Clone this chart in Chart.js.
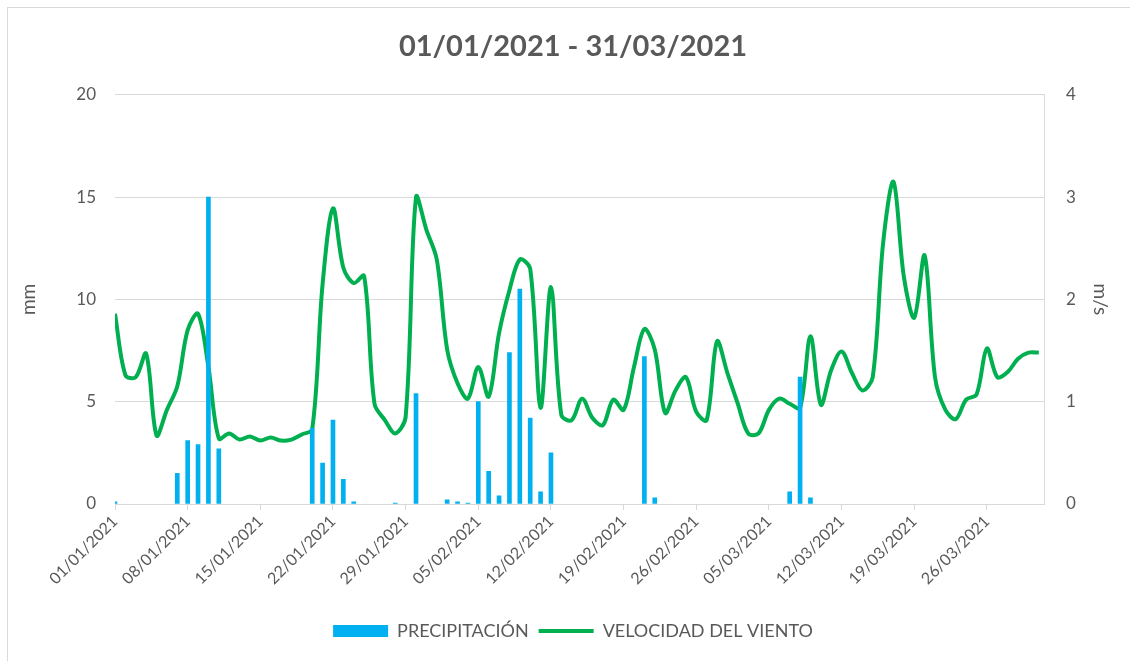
<!DOCTYPE html>
<html lang="es">
<head>
<meta charset="utf-8">
<title>Precipitación y velocidad del viento</title>
<script src="https://cdn.jsdelivr.net/npm/chart.js@4"></script>
<style>
  html, body { margin: 0; padding: 0; background: #fff; overflow: hidden; }
  #marco { position: absolute; left: 7px; top: 7px; width: 1140px; height: 670px; border: 1px solid #d9d9d9; }
  #grafico { position: absolute; left: 8px; top: 0; }
</style>
</head>
<body>
<div id="marco"></div>
<canvas id="grafico" width="1130" height="661"></canvas>
<script>
// Días del trimestre (01/01/2021 .. 31/03/2021)
const fechas = [];
for (let i = 0; i < 90; i++) {
  const d = new Date(Date.UTC(2021, 0, 1 + i));
  const dd = String(d.getUTCDate()).padStart(2, '0');
  const mm = String(d.getUTCMonth() + 1).padStart(2, '0');
  fechas.push(dd + '/' + mm + '/' + d.getUTCFullYear());
}

// precipitación diaria (mm)
const precipitacion = [
  0.1, 0, 0, 0, 0, 0, 1.5, 3.1, 2.9, 15.0,
  2.7, 0, 0, 0, 0, 0, 0, 0, 0, 3.7,
  2.0, 4.1, 1.2, 0.1, 0, 0, 0, 0.05, 0, 5.4,
  0, 0, 0.2, 0.1, 0.05, 5.0, 1.6, 0.4, 7.4, 10.5,
  4.2, 0.6, 2.5, 0, 0, 0, 0, 0, 0, 0,
  0, 7.2, 0.3, 0, 0, 0, 0, 0, 0, 0,
  0, 0, 0, 0, 0, 0.6, 6.2, 0.3, 0, 0,
  0, 0, 0, 0, 0, 0, 0, 0, 0, 0,
  0, 0, 0, 0, 0, 0, 0, 0, 0, 0
];

// velocidad media del viento (m/s)
const viento = [
  1.86, 1.26, 1.24, 1.47, 0.67, 0.92, 1.15, 1.70, 1.86, 1.34,
  0.64, 0.69, 0.63, 0.66, 0.62, 0.65, 0.62, 0.63, 0.68, 0.73,
  2.15, 2.89, 2.31, 2.16, 2.23, 0.98, 0.82, 0.69, 0.85, 3.00,
  2.68, 2.39, 1.51, 1.18, 1.03, 1.34, 1.05, 1.67, 2.09, 2.39,
  2.30, 0.94, 2.12, 0.87, 0.82, 1.03, 0.84, 0.77, 1.02, 0.92,
  1.34, 1.71, 1.51, 0.89, 1.11, 1.24, 0.90, 0.82, 1.59, 1.28,
  0.98, 0.69, 0.69, 0.92, 1.03, 0.98, 0.94, 1.64, 0.97, 1.31,
  1.49, 1.28, 1.11, 1.24, 2.55, 3.15, 2.22, 1.82, 2.43, 1.24,
  0.92, 0.83, 1.02, 1.07, 1.52, 1.24, 1.29, 1.42, 1.48, 1.48
];

const ticksMm = [0, 5, 10, 15, 20];
const ticksMs = [0, 1, 2, 3, 4];

const azul = '#00b0f0';
const verde = '#00b050';
const gris = '#595959';
const rejilla = '#d9d9d9';

Chart.defaults.font.family = 'Lato, "Open Sans", sans-serif';
Chart.defaults.color = gris;

new Chart(document.getElementById('grafico'), {
  type: 'bar',
  data: {
    datasets: [
      {
        type: 'bar',
        label: 'PRECIPITACIÓN',
        // los días sin lluvia no dibujan barra
        data: precipitacion.map((v, i) => ({ x: i, y: v > 0 ? v : null })),
        backgroundColor: azul,
        barThickness: 4,
        yAxisID: 'y'
      },
      {
        type: 'line',
        label: 'VELOCIDAD DEL VIENTO',
        data: viento.map((v, i) => ({ x: i, y: v })),
        borderColor: verde,
        backgroundColor: verde,
        borderWidth: 4,
        pointRadius: 0,
        tension: 0.33,
        yAxisID: 'y1'
      }
    ]
  },
  options: {
    responsive: false,
    devicePixelRatio: 1,
    animation: false,
    layout: { padding: { left: 0, right: 0, top: 0, bottom: 11 } },
    plugins: {
      title: {
        display: true,
        text: '01/01/2021 - 31/03/2021',
        color: gris,
        font: { size: 29, weight: 'bold' },
        padding: { top: 29, bottom: 31 }
      },
      legend: {
        position: 'bottom',
        labels: {
          usePointStyle: true,
          pointStyleWidth: 55,
          boxHeight: 12,
          padding: 10,
          font: { size: 18 },
          color: gris,
          generateLabels: (chart) => chart.data.datasets.map((ds, i) => ({
            text: ds.label,
            datasetIndex: i,
            fillStyle: ds.type === 'bar' ? azul : verde,
            strokeStyle: ds.type === 'bar' ? azul : verde,
            lineWidth: ds.type === 'bar' ? 0 : 4,
            pointStyle: ds.type === 'bar' ? 'rect' : 'line',
            fontColor: gris,
            hidden: false
          }))
        }
      },
      tooltip: { enabled: false }
    },
    scales: {
      x: {
        type: 'linear',
        min: 0,
        max: 89.5,
        offset: false,
        afterFit: (s) => { s.height = 108; },
        grid: { offset: false, drawOnChartArea: false, drawTicks: true, tickLength: 6, color: rejilla },
        border: { color: rejilla },
        ticks: {
          stepSize: 7,
          includeBounds: false,
          autoSkip: false,
          maxRotation: 45,
          minRotation: 45,
          padding: 2,
          font: { size: 16 },
          color: gris,
          callback: (v) => fechas[v]
        }
      },
      y: {
        position: 'left',
        min: ticksMm[0],
        max: ticksMm[ticksMm.length - 1],
        afterFit: (s) => { s.width = 107; },
        grid: { color: rejilla, drawTicks: false },
        border: { display: false },
        ticks: { stepSize: 5, padding: 19, font: { size: 17 }, color: gris },
        title: { display: true, text: 'mm', font: { size: 19 }, color: gris, padding: { top: 9, bottom: 0 } }
      },
      y1: {
        position: 'right',
        min: ticksMs[0],
        max: ticksMs[ticksMs.length - 1],
        afterFit: (s) => { s.width = 94; },
        grid: { drawOnChartArea: false, drawTicks: false },
        border: { display: true, color: rejilla },
        ticks: { stepSize: 1, padding: 22, font: { size: 17 }, color: gris },
        title: { display: true, text: 'm/s', font: { size: 19 }, color: gris, padding: { top: 26, bottom: 0 } }
      }
    }
  }
});
</script>
</body>
</html>
